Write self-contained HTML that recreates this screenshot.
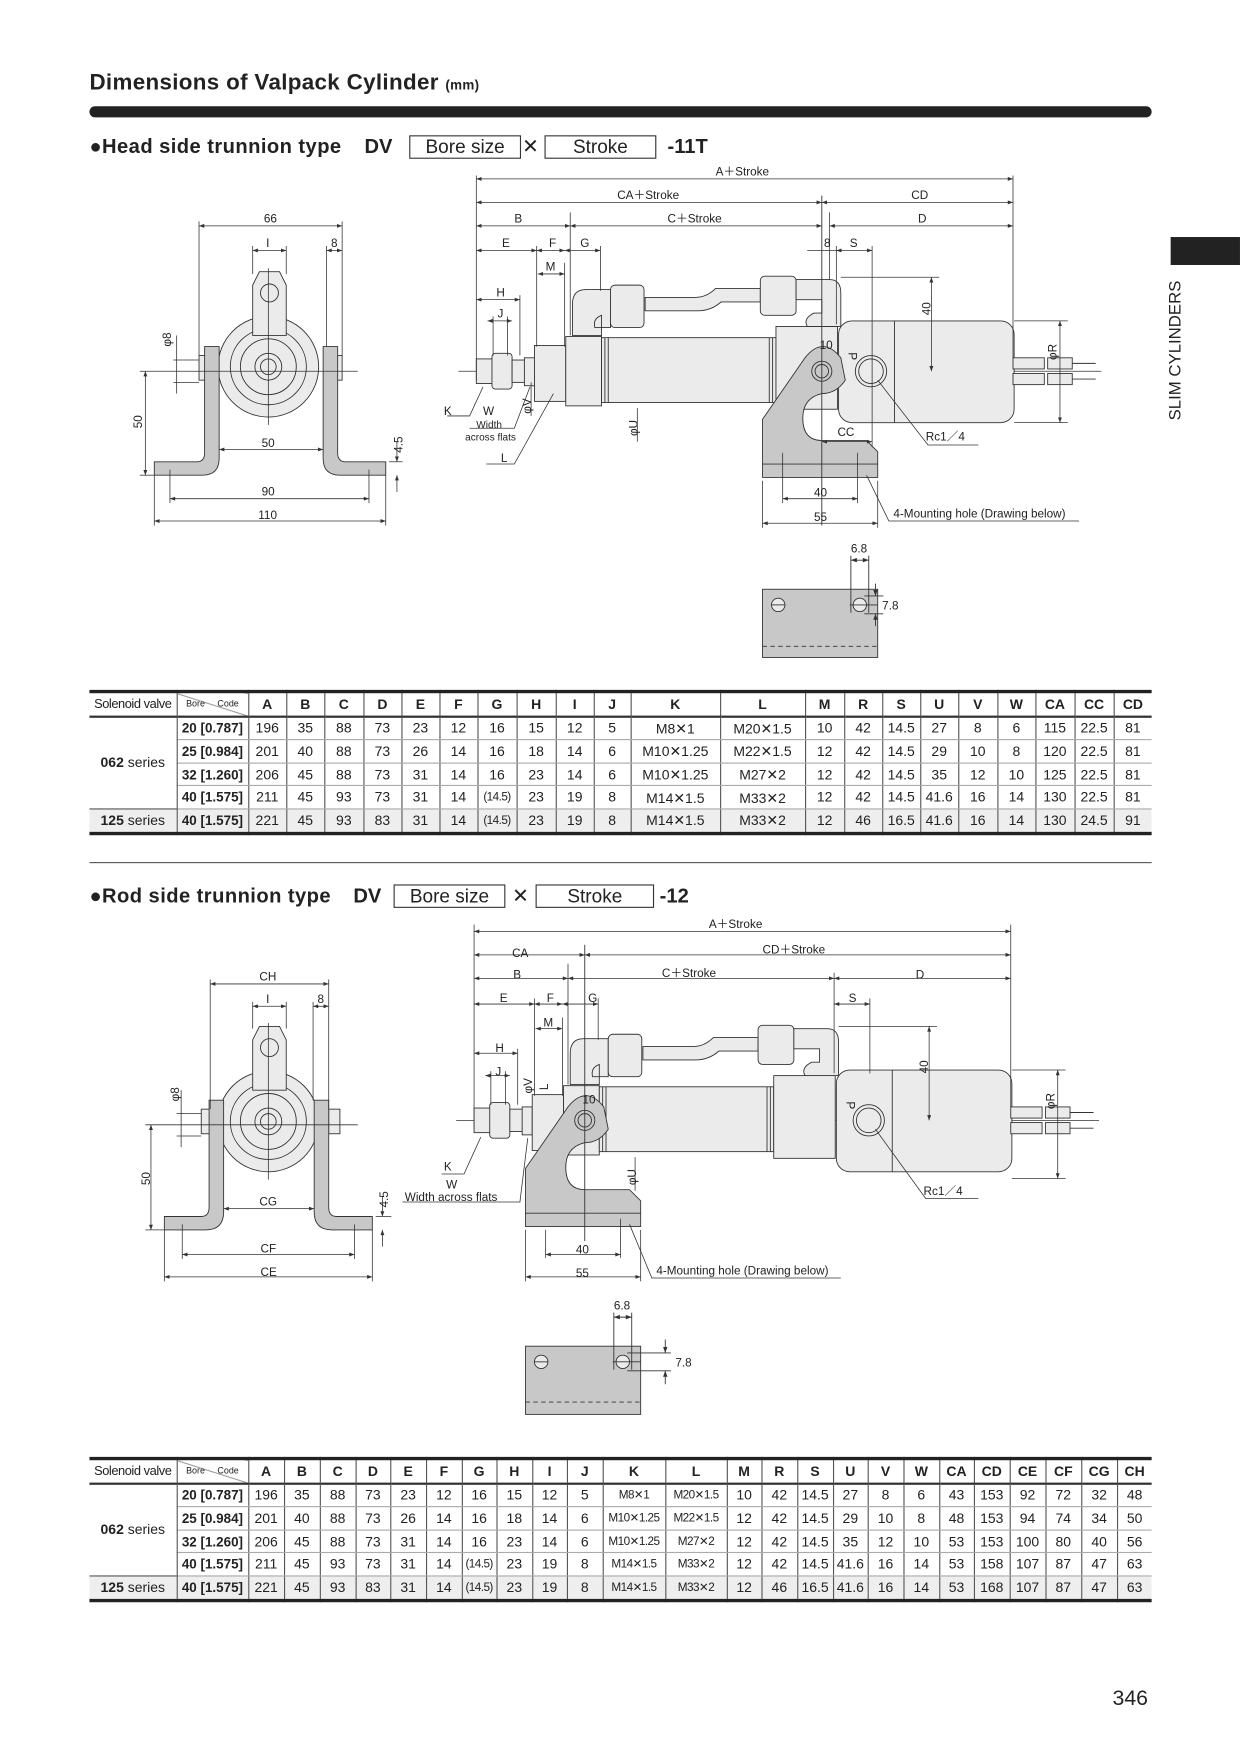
<!DOCTYPE html>
<html><head><meta charset="utf-8">
<style>
html,body{margin:0;padding:0;background:#fff;}
body{width:1240px;height:1754px;overflow:hidden;position:relative;}
#w{position:absolute;left:0;top:0;width:1109px;height:1568px;transform:scale(1.1181);transform-origin:0 0;font-family:"Liberation Sans",sans-serif;color:#222;}
.abs{position:absolute;white-space:nowrap;}
table{border-collapse:collapse;table-layout:fixed;position:absolute;left:80px;width:950px;font-size:12.5px;}
td,th{border-left:1px solid #555;border-right:1px solid #555;height:19.6px;padding:0;text-align:center;white-space:nowrap;overflow:hidden;font-weight:normal;}
th{font-weight:bold;font-size:12.5px;border-bottom:2px solid #333;}
tr.d td{border-bottom:1px solid #aaa;}
table{border-top:3px solid #222;border-bottom:3px solid #222;}
td.b{font-weight:bold;font-size:12px;}
tr.g td{background:#eee;}
td:first-child,th:first-child{border-left:none;}
td:last-child,th:last-child{border-right:none;}
.sv{font-size:11.5px;font-weight:normal!important;letter-spacing:-0.4px;}
.sm{font-size:10.5px;letter-spacing:-0.5px;}
.h2{font-weight:bold;font-size:18px;}
.box{position:absolute;border:1px solid #333;height:19px;line-height:19px;text-align:center;font-weight:normal;font-size:17px;}
</style></head><body><div id="w">
<div class="abs" style="left:80px;top:63px;font-size:20px;font-weight:bold;letter-spacing:0.3px;">Dimensions of Valpack Cylinder <span style="font-size:12px">(mm)</span></div>
<div class="abs" style="left:80px;top:95px;width:950px;height:10px;background:#222;border-radius:5px;"></div>

<div class="abs h2" style="left:80px;top:121px;letter-spacing:0.4px;">●Head side trunnion type</div>
<div class="abs h2" style="left:326px;top:121px;">DV</div>
<div class="box" style="left:366px;top:121px;width:98px">Bore size</div>
<div class="abs" style="left:467px;top:121px;font-size:18px;">✕</div>
<div class="box" style="left:487px;top:121px;width:98px">Stroke</div>
<div class="abs h2" style="left:597px;top:121px;">-11T</div>

<div class="abs" style="left:1047px;top:212px;width:62px;height:25px;background:#222;"></div>
<div class="abs" style="left:1043px;top:376px;transform:rotate(-90deg);transform-origin:0 0;font-size:15px;white-space:nowrap;">SLIM CYLINDERS</div>
<div class="abs" style="left:80px;top:771px;width:950px;height:1px;background:#555;"></div>

<div class="abs h2" style="left:80px;top:791px;letter-spacing:0.4px;">●Rod side trunnion type</div>
<div class="abs h2" style="left:316px;top:791px;">DV</div>
<div class="box" style="left:352px;top:791px;width:98px">Bore size</div>
<div class="abs" style="left:458px;top:791px;font-size:18px;">✕</div>
<div class="box" style="left:479px;top:791px;width:104px">Stroke</div>
<div class="abs h2" style="left:590px;top:791px;">-12</div>

<div class="abs" style="left:995px;top:1509px;font-size:19px;">346</div>

<svg class="abs" style="left:0;top:0" width="1109" height="1568" viewBox="0 0 1109 1568" font-family="Liberation Sans, sans-serif" font-size="10.5" fill="none" stroke="#333" stroke-width="0.8">
<defs>
<marker id="a" viewBox="0 0 8 6" refX="8" refY="3" markerWidth="7" markerHeight="5" orient="auto-start-reverse"><path d="M0,0L8,3L0,6z" fill="#333" stroke="none"/></marker>
<g id="cyl">
<line x1="410" y1="332" x2="985" y2="332" stroke-width="0.7"/>
<g fill="#ebebeb">
<rect x="426" y="321" width="16" height="22"/>
<rect x="440" y="316" width="18" height="32" rx="3"/>
<rect x="458" y="322" width="12" height="20"/>
<rect x="469" y="320" width="9" height="25"/>
<rect x="478" y="309" width="28" height="50"/>
<rect x="506" y="301" width="32" height="62"/>
<rect x="538" y="302" width="156" height="58"/>
<rect x="694" y="292" width="55" height="74"/>
<rect x="750" y="287" width="157" height="91" rx="12"/>
<path d="M512,300 V272 Q512,259 524,259 H546 V293 H532 Q530,285 538,282 V300 Z"/>
<path d="M577,266 H622 Q632,266 640,258 H680 V270 H645 Q636,278 624,278 H577 Z"/>
<rect x="546" y="255" width="30" height="38" rx="4"/>
<rect x="680" y="247" width="32" height="35" rx="4"/>
<path d="M712,250 H742 Q752,250 752,262 V292 H722 Q718,285 728,280 H735 V268 H712 Z"/>
<rect x="906" y="320" width="28" height="10"/><rect x="906" y="334" width="28" height="10"/>
<rect x="937" y="320" width="22" height="10"/><rect x="937" y="334" width="22" height="10"/>
</g>
<line x1="541" y1="302" x2="541" y2="360"/><line x1="544" y1="302" x2="544" y2="360"/>
<line x1="688" y1="302" x2="688" y2="360"/><line x1="691" y1="302" x2="691" y2="360"/>
<line x1="800" y1="287" x2="800" y2="378"/>
<circle cx="779" cy="332" r="14" fill="#ebebeb"/><circle cx="779" cy="332" r="11"/>
<line x1="959" y1="325" x2="980" y2="325"/><line x1="959" y1="339" x2="980" y2="339"/>
</g>
</defs>

<use href="#cyl"/>
<path d="M682,375 L720,320 Q736,300 752,320 L756,340 Q748,352 735,352 Q718,356 718,374 Q718,394 735,394 H775 L785,404 V427 H682 Z" fill="#c8c8c8"/>
<line x1="682" y1="415" x2="785" y2="415"/>
<circle cx="735" cy="332" r="9"/><circle cx="735" cy="332" r="6"/>
<line x1="735" y1="175" x2="735" y2="470"/>
<g stroke-width="0.7">
<line x1="426" y1="157" x2="426" y2="340"/><line x1="906" y1="157" x2="906" y2="320"/>
<line x1="426" y1="160" x2="906" y2="160" marker-start="url(#a)" marker-end="url(#a)"/>
<line x1="426" y1="181" x2="735" y2="181" marker-start="url(#a)" marker-end="url(#a)"/>
<line x1="735" y1="181" x2="906" y2="181" marker-start="url(#a)" marker-end="url(#a)"/>
<line x1="426" y1="202" x2="510" y2="202" marker-start="url(#a)" marker-end="url(#a)"/>
<line x1="510" y1="202" x2="735" y2="202" marker-start="url(#a)" marker-end="url(#a)"/>
<line x1="742" y1="202" x2="906" y2="202" marker-start="url(#a)" marker-end="url(#a)"/>
<line x1="426" y1="224" x2="480" y2="224" marker-start="url(#a)" marker-end="url(#a)"/>
<line x1="480" y1="224" x2="505" y2="224" marker-start="url(#a)" marker-end="url(#a)"/>
<line x1="505" y1="224" x2="537" y2="224" marker-start="url(#a)" marker-end="url(#a)"/>
<line x1="722" y1="224" x2="748" y2="224"/><line x1="748" y1="224" x2="780" y2="224" marker-start="url(#a)" marker-end="url(#a)"/>
<line x1="510" y1="190" x2="510" y2="300"/><line x1="480" y1="220" x2="480" y2="310"/><line x1="537" y1="220" x2="537" y2="260"/>
<line x1="742" y1="190" x2="742" y2="250"/><line x1="780" y1="220" x2="780" y2="400"/><line x1="748" y1="220" x2="748" y2="290"/>
<line x1="481" y1="245" x2="505" y2="245" marker-start="url(#a)" marker-end="url(#a)"/><line x1="505" y1="235" x2="505" y2="310"/>
<line x1="426" y1="268" x2="465" y2="268" marker-start="url(#a)" marker-end="url(#a)"/><line x1="465" y1="264" x2="465" y2="318"/>
<line x1="436" y1="287" x2="458" y2="287" marker-start="url(#a)" marker-end="url(#a)"/><line x1="441" y1="283" x2="441" y2="318"/><line x1="454" y1="283" x2="454" y2="318"/>
<line x1="752" y1="248" x2="840" y2="248"/><line x1="833" y1="248" x2="833" y2="332" marker-start="url(#a)" marker-end="url(#a)"/>
<line x1="907" y1="287" x2="955" y2="287"/><line x1="907" y1="378" x2="955" y2="378"/><line x1="948" y1="287" x2="948" y2="378" marker-start="url(#a)" marker-end="url(#a)"/>
<line x1="735" y1="395" x2="780" y2="395" marker-start="url(#a)" marker-end="url(#a)"/>
<line x1="700" y1="405" x2="700" y2="450"/><line x1="767" y1="405" x2="767" y2="450"/>
<line x1="700" y1="446" x2="767" y2="446" marker-start="url(#a)" marker-end="url(#a)"/>
<line x1="682" y1="430" x2="682" y2="472"/><line x1="785" y1="430" x2="785" y2="472"/>
<line x1="682" y1="468" x2="785" y2="468" marker-start="url(#a)" marker-end="url(#a)"/>
<polyline points="775,425 795,466 965,466"/>
<polyline points="785,340 830,398 875,398"/>
<polyline points="400,372 420,372 432,346"/><polyline points="420,383 460,383 474,346"/><polyline points="435,415 460,415 495,352"/>
<line x1="570" y1="365" x2="570" y2="395"/><line x1="475" y1="342" x2="475" y2="372"/>
</g>
<g fill="#222" stroke="none" font-size="10.5">
<text x="640" y="157">A＋Stroke</text><text x="552" y="178">CA＋Stroke</text><text x="815" y="178">CD</text>
<text x="460" y="199">B</text><text x="597" y="199">C＋Stroke</text><text x="821" y="199">D</text>
<text x="449" y="221">E</text><text x="491" y="221">F</text><text x="519" y="221">G</text><text x="737" y="221">8</text><text x="760" y="221">S</text>
<text x="488" y="242">M</text><text x="444" y="265">H</text><text x="445" y="284">J</text><text x="733" y="312">10</text>
<text x="397" y="371">K</text><text x="432" y="371">W</text><text x="426" y="383" font-size="9">Width</text><text x="416" y="394" font-size="9">across flats</text><text x="448" y="413">L</text>
<text x="749" y="390">CC</text><text x="828" y="394">Rc1／4</text><text x="728" y="444">40</text><text x="728" y="466">55</text>
<text x="799" y="463">4-Mounting hole (Drawing below)</text>
<text transform="translate(832,282) rotate(-90)">40</text><text transform="translate(945,322) rotate(-90)">φR</text>
<text transform="translate(759,315) rotate(90)">P</text><text transform="translate(475,370) rotate(-90)">φV</text><text transform="translate(570,390) rotate(-90)">φU</text>
</g>

<g stroke-width="0.8">
<circle cx="240" cy="328" r="45" fill="#ebebeb"/><circle cx="240" cy="328" r="34" /><circle cx="240" cy="328" r="25" fill="#ebebeb"/><circle cx="240" cy="328" r="12"/><circle cx="240" cy="328" r="7"/>
<path d="M226,255 L232,243 H250 L256,255 V300 H226 Z" fill="#ebebeb"/><circle cx="241" cy="262" r="8"/>
<rect x="178" y="318" width="12" height="22" fill="#ebebeb"/><rect x="294" y="318" width="12" height="22" fill="#ebebeb"/>
<path d="M183,310 H196 V410 Q196,425 181,425 H138 V413 H176 Q183,413 183,405 Z" fill="#c8c8c8"/>
<path d="M302,310 H289 V410 Q289,425 304,425 H345 V413 H309 Q302,413 302,405 Z" fill="#c8c8c8"/>
<g stroke-width="0.7">
<line x1="165" y1="332" x2="320" y2="332"/><line x1="240" y1="240" x2="240" y2="380"/>
<line x1="178" y1="198" x2="178" y2="318"/><line x1="306" y1="198" x2="306" y2="318"/>
<line x1="178" y1="202" x2="306" y2="202" marker-start="url(#a)" marker-end="url(#a)"/>
<line x1="226" y1="224" x2="256" y2="224" marker-start="url(#a)" marker-end="url(#a)"/><line x1="226" y1="220" x2="226" y2="245"/><line x1="256" y1="220" x2="256" y2="245"/>
<line x1="292" y1="224" x2="306" y2="224" marker-start="url(#a)" marker-end="url(#a)"/><line x1="292" y1="220" x2="292" y2="310"/>
<line x1="196" y1="402" x2="289" y2="402" marker-start="url(#a)" marker-end="url(#a)"/>
<line x1="138" y1="425" x2="138" y2="470"/><line x1="345" y1="425" x2="345" y2="470"/><line x1="152" y1="420" x2="152" y2="450"/><line x1="330" y1="420" x2="330" y2="450"/>
<line x1="152" y1="446" x2="330" y2="446" marker-start="url(#a)" marker-end="url(#a)"/>
<line x1="138" y1="466" x2="345" y2="466" marker-start="url(#a)" marker-end="url(#a)"/>
<line x1="125" y1="332" x2="165" y2="332"/><line x1="130" y1="332" x2="130" y2="425" marker-start="url(#a)" marker-end="url(#a)"/><line x1="125" y1="425" x2="138" y2="425"/>
<line x1="348" y1="413" x2="360" y2="413"/><line x1="355" y1="395" x2="355" y2="413" marker-end="url(#a)"/><line x1="355" y1="440" x2="355" y2="425" marker-end="url(#a)"/>
<line x1="155" y1="322" x2="178" y2="322"/><line x1="155" y1="342" x2="178" y2="342"/><line x1="158" y1="300" x2="158" y2="352"/>
</g></g>
<g fill="#222" stroke="none">
<text x="236" y="199">66</text><text x="238" y="221">I</text><text x="296" y="221">8</text><text x="234" y="400">50</text><text x="234" y="443">90</text><text x="231" y="464">110</text>
<text transform="translate(127,383) rotate(-90)">50</text><text transform="translate(360,405) rotate(-90)">4.5</text><text transform="translate(153,310) rotate(-90)">φ8</text>
</g>

<g stroke-width="0.8">
<rect x="682" y="527" width="103" height="61" fill="#c8c8c8"/>
<line x1="682" y1="578" x2="785" y2="578" stroke-dasharray="4,3"/>
<circle cx="696" cy="541" r="6" fill="#ebebeb"/><circle cx="769" cy="541" r="6" fill="#ebebeb"/>
<line x1="690" y1="541" x2="702" y2="541"/><line x1="760" y1="541" x2="785" y2="541"/>
<line x1="761" y1="497" x2="761" y2="548"/><line x1="777" y1="497" x2="777" y2="548"/>
<line x1="761" y1="501" x2="777" y2="501" marker-start="url(#a)" marker-end="url(#a)"/>
<line x1="773" y1="533" x2="790" y2="533"/><line x1="773" y1="549" x2="790" y2="549"/>
<line x1="783" y1="522" x2="783" y2="533" marker-end="url(#a)"/><line x1="783" y1="560" x2="783" y2="549" marker-end="url(#a)"/>
</g>
<g fill="#222" stroke="none"><text x="761" y="494">6.8</text><text x="789" y="545">7.8</text></g>

<use href="#cyl" transform="translate(-2,670)"/>
<path d="M470,1045 L508,990 Q524,970 540,990 L544,1010 Q536,1022 523,1022 Q506,1026 506,1044 Q506,1064 523,1064 H563 L573,1074 V1097 H470 Z" fill="#c8c8c8"/>
<line x1="470" y1="1085" x2="573" y2="1085"/>
<circle cx="523" cy="1002" r="9"/><circle cx="523" cy="1002" r="6"/>
<line x1="523" y1="845" x2="523" y2="1110"/>
<g stroke-width="0.7">
<line x1="424" y1="827" x2="424" y2="1010"/><line x1="904" y1="827" x2="904" y2="990"/>
<line x1="424" y1="833" x2="904" y2="833" marker-start="url(#a)" marker-end="url(#a)"/>
<line x1="424" y1="854" x2="523" y2="854" marker-start="url(#a)" marker-end="url(#a)"/>
<line x1="523" y1="854" x2="904" y2="854" marker-start="url(#a)" marker-end="url(#a)"/>
<line x1="424" y1="875" x2="508" y2="875" marker-start="url(#a)" marker-end="url(#a)"/>
<line x1="508" y1="875" x2="746" y2="875" marker-start="url(#a)" marker-end="url(#a)"/>
<line x1="746" y1="875" x2="904" y2="875" marker-start="url(#a)" marker-end="url(#a)"/>
<line x1="424" y1="898" x2="478" y2="898" marker-start="url(#a)" marker-end="url(#a)"/>
<line x1="478" y1="898" x2="503" y2="898" marker-start="url(#a)" marker-end="url(#a)"/>
<line x1="503" y1="898" x2="535" y2="898" marker-start="url(#a)" marker-end="url(#a)"/>
<line x1="746" y1="898" x2="778" y2="898" marker-start="url(#a)" marker-end="url(#a)"/>
<line x1="508" y1="862" x2="508" y2="970"/><line x1="478" y1="893" x2="478" y2="980"/><line x1="535" y1="893" x2="535" y2="930"/>
<line x1="746" y1="870" x2="746" y2="960"/><line x1="778" y1="893" x2="778" y2="960"/>
<line x1="479" y1="920" x2="503" y2="920" marker-start="url(#a)" marker-end="url(#a)"/><line x1="503" y1="910" x2="503" y2="980"/>
<line x1="424" y1="942" x2="463" y2="942" marker-start="url(#a)" marker-end="url(#a)"/><line x1="463" y1="938" x2="463" y2="988"/>
<line x1="434" y1="962" x2="456" y2="962" marker-start="url(#a)" marker-end="url(#a)"/><line x1="439" y1="958" x2="439" y2="988"/><line x1="452" y1="958" x2="452" y2="988"/>
<line x1="750" y1="918" x2="838" y2="918"/><line x1="831" y1="918" x2="831" y2="1002" marker-start="url(#a)" marker-end="url(#a)"/>
<line x1="905" y1="957" x2="953" y2="957"/><line x1="905" y1="1054" x2="953" y2="1054"/><line x1="946" y1="957" x2="946" y2="1054" marker-start="url(#a)" marker-end="url(#a)"/>
<line x1="488" y1="1100" x2="488" y2="1125"/><line x1="555" y1="1090" x2="555" y2="1125"/>
<line x1="488" y1="1122" x2="555" y2="1122" marker-start="url(#a)" marker-end="url(#a)"/>
<line x1="470" y1="1100" x2="470" y2="1146"/><line x1="573" y1="1100" x2="573" y2="1146"/>
<line x1="470" y1="1142" x2="573" y2="1142" marker-start="url(#a)" marker-end="url(#a)"/>
<polyline points="563,1095 583,1143 752,1143"/>
<polyline points="783,1010 828,1072 875,1072"/>
<polyline points="395,1050 415,1050 430,1017"/><polyline points="360,1075 465,1075 472,1018"/>
<line x1="568" y1="1035" x2="568" y2="1065"/>
</g>
<g fill="#222" stroke="none">
<text x="634" y="830">A＋Stroke</text><text x="458" y="856">CA</text><text x="682" y="853">CD＋Stroke</text>
<text x="459" y="875">B</text><text x="592" y="874">C＋Stroke</text><text x="819" y="875">D</text>
<text x="447" y="896">E</text><text x="489" y="896">F</text><text x="526" y="896">G</text><text x="759" y="896">S</text>
<text x="486" y="918">M</text><text x="443" y="941">H</text><text x="443" y="962">J</text><text x="521" y="987">10</text>
<text x="397" y="1047">K</text><text x="399" y="1063">W</text><text x="362" y="1074">Width across flats</text>
<text x="826" y="1069">Rc1／4</text><text x="515" y="1121">40</text><text x="515" y="1142">55</text>
<text x="587" y="1140">4-Mounting hole (Drawing below)</text>
<text transform="translate(830,960) rotate(-90)">40</text><text transform="translate(943,992) rotate(-90)">φR</text>
<text transform="translate(757,985) rotate(90)">P</text><text transform="translate(476,978) rotate(-90)">φV</text><text transform="translate(490,975) rotate(-90)">L</text><text transform="translate(569,1060) rotate(-90)">φU</text>
</g>

<g stroke-width="0.8">
<circle cx="240" cy="1003" r="45" fill="#ebebeb"/><circle cx="240" cy="1003" r="34"/><circle cx="240" cy="1003" r="25" fill="#ebebeb"/><circle cx="240" cy="1003" r="12"/><circle cx="240" cy="1003" r="7"/>
<path d="M226,930 L232,918 H250 L256,930 V975 H226 Z" fill="#ebebeb"/><circle cx="241" cy="937" r="8"/>
<rect x="180" y="992" width="10" height="22" fill="#ebebeb"/><rect x="294" y="992" width="10" height="22" fill="#ebebeb"/>
<path d="M187,984 H200 V1084 Q200,1100 184,1100 H147 V1088 H180 Q187,1088 187,1080 Z" fill="#c8c8c8"/>
<path d="M294,984 H281 V1084 Q281,1100 297,1100 H333 V1088 H301 Q294,1088 294,1080 Z" fill="#c8c8c8"/>
<g stroke-width="0.7">
<line x1="165" y1="1006" x2="320" y2="1006"/><line x1="240" y1="915" x2="240" y2="1055"/>
<line x1="188" y1="876" x2="188" y2="992"/><line x1="294" y1="876" x2="294" y2="992"/>
<line x1="188" y1="880" x2="294" y2="880" marker-start="url(#a)" marker-end="url(#a)"/>
<line x1="226" y1="900" x2="256" y2="900" marker-start="url(#a)" marker-end="url(#a)"/><line x1="226" y1="896" x2="226" y2="920"/><line x1="256" y1="896" x2="256" y2="920"/>
<line x1="280" y1="900" x2="294" y2="900" marker-start="url(#a)" marker-end="url(#a)"/><line x1="280" y1="896" x2="280" y2="984"/>
<line x1="200" y1="1081" x2="281" y2="1081" marker-start="url(#a)" marker-end="url(#a)"/>
<line x1="147" y1="1100" x2="147" y2="1146"/><line x1="333" y1="1100" x2="333" y2="1146"/><line x1="163" y1="1095" x2="163" y2="1126"/><line x1="317" y1="1095" x2="317" y2="1126"/>
<line x1="163" y1="1122" x2="317" y2="1122" marker-start="url(#a)" marker-end="url(#a)"/>
<line x1="147" y1="1142" x2="333" y2="1142" marker-start="url(#a)" marker-end="url(#a)"/>
<line x1="130" y1="1006" x2="165" y2="1006"/><line x1="135" y1="1006" x2="135" y2="1100" marker-start="url(#a)" marker-end="url(#a)"/><line x1="130" y1="1100" x2="147" y2="1100"/>
<line x1="336" y1="1088" x2="350" y2="1088"/><line x1="342" y1="1070" x2="342" y2="1088" marker-end="url(#a)"/><line x1="342" y1="1115" x2="342" y2="1100" marker-end="url(#a)"/>
<line x1="158" y1="996" x2="180" y2="996"/><line x1="158" y1="1016" x2="180" y2="1016"/><line x1="162" y1="975" x2="162" y2="1026"/>
</g></g>
<g fill="#222" stroke="none">
<text x="232" y="877">CH</text><text x="238" y="897">I</text><text x="284" y="897">8</text><text x="232" y="1078">CG</text><text x="233" y="1120">CF</text><text x="233" y="1141">CE</text>
<text transform="translate(134,1060) rotate(-90)">50</text><text transform="translate(347,1080) rotate(-90)">4.5</text><text transform="translate(160,985) rotate(-90)">φ8</text>
</g>

<g stroke-width="0.8">
<rect x="470" y="1204" width="103" height="61" fill="#c8c8c8"/>
<line x1="470" y1="1254" x2="573" y2="1254" stroke-dasharray="4,3"/>
<circle cx="484" cy="1218" r="6" fill="#ebebeb"/><circle cx="557" cy="1218" r="6" fill="#ebebeb"/>
<line x1="478" y1="1218" x2="490" y2="1218"/><line x1="548" y1="1218" x2="573" y2="1218"/>
<line x1="549" y1="1174" x2="549" y2="1225"/><line x1="565" y1="1174" x2="565" y2="1225"/>
<line x1="549" y1="1178" x2="565" y2="1178" marker-start="url(#a)" marker-end="url(#a)"/>
<line x1="561" y1="1210" x2="600" y2="1210"/><line x1="561" y1="1226" x2="600" y2="1226"/>
<line x1="595" y1="1198" x2="595" y2="1210" marker-end="url(#a)"/><line x1="595" y1="1238" x2="595" y2="1226" marker-end="url(#a)"/>
</g>
<g fill="#222" stroke="none"><text x="549" y="1171">6.8</text><text x="604" y="1222">7.8</text></g>
</svg>

<table style="top:617px;">
<colgroup><col style="width:78px"><col style="width:64px"><col style="width:34px"><col style="width:34px"><col style="width:35px"><col style="width:34px"><col style="width:34px"><col style="width:34px"><col style="width:35px"><col style="width:35px"><col style="width:34px"><col style="width:33px"><col style="width:80px"><col style="width:76px"><col style="width:35px"><col style="width:34px"><col style="width:34px"><col style="width:34px"><col style="width:35px"><col style="width:34px"><col style="width:35px"><col style="width:35px"><col style="width:34px"></colgroup>
<tr><th class="sv">Solenoid valve</th><th style="font-size:8px;font-weight:normal;background:linear-gradient(to top right,transparent 49%,#555 50%,transparent 52%)">Bore&nbsp;&nbsp;&nbsp;&nbsp;&nbsp;Code</th><th>A</th><th>B</th><th>C</th><th>D</th><th>E</th><th>F</th><th>G</th><th>H</th><th>I</th><th>J</th><th>K</th><th>L</th><th>M</th><th>R</th><th>S</th><th>U</th><th>V</th><th>W</th><th>CA</th><th>CC</th><th>CD</th></tr>
<tr class="d"><td rowspan="4" style="border-bottom:1px solid #555"><b>062</b> series</td><td class="b">20 [0.787]</td><td>196</td><td>35</td><td>88</td><td>73</td><td>23</td><td>12</td><td>16</td><td>15</td><td>12</td><td>5</td><td>M8✕1</td><td>M20✕1.5</td><td>10</td><td>42</td><td>14.5</td><td>27</td><td>8</td><td>6</td><td>115</td><td>22.5</td><td>81</td></tr>
<tr class="d"><td class="b">25 [0.984]</td><td>201</td><td>40</td><td>88</td><td>73</td><td>26</td><td>14</td><td>16</td><td>18</td><td>14</td><td>6</td><td>M10✕1.25</td><td>M22✕1.5</td><td>12</td><td>42</td><td>14.5</td><td>29</td><td>10</td><td>8</td><td>120</td><td>22.5</td><td>81</td></tr>
<tr class="d"><td class="b">32 [1.260]</td><td>206</td><td>45</td><td>88</td><td>73</td><td>31</td><td>14</td><td>16</td><td>23</td><td>14</td><td>6</td><td>M10✕1.25</td><td>M27✕2</td><td>12</td><td>42</td><td>14.5</td><td>35</td><td>12</td><td>10</td><td>125</td><td>22.5</td><td>81</td></tr>
<tr class="d"><td class="b">40 [1.575]</td><td>211</td><td>45</td><td>93</td><td>73</td><td>31</td><td>14</td><td class="sm">(14.5)</td><td>23</td><td>19</td><td>8</td><td>M14✕1.5</td><td>M33✕2</td><td>12</td><td>42</td><td>14.5</td><td>41.6</td><td>16</td><td>14</td><td>130</td><td>22.5</td><td>81</td></tr>
<tr class="g"><td><b>125</b> series</td><td class="b">40 [1.575]</td><td>221</td><td>45</td><td>93</td><td>83</td><td>31</td><td>14</td><td class="sm">(14.5)</td><td>23</td><td>19</td><td>8</td><td>M14✕1.5</td><td>M33✕2</td><td>12</td><td>46</td><td>16.5</td><td>41.6</td><td>16</td><td>14</td><td>130</td><td>24.5</td><td>91</td></tr>
</table>

<table style="top:1303px;">
<colgroup><col style="width:78px"><col style="width:64px"><col style="width:32px"><col style="width:32px"><col style="width:32px"><col style="width:31px"><col style="width:32px"><col style="width:32px"><col style="width:31px"><col style="width:32px"><col style="width:31px"><col style="width:32px"><col style="width:56px"><col style="width:55px"><col style="width:31px"><col style="width:32px"><col style="width:32px"><col style="width:31px"><col style="width:32px"><col style="width:32px"><col style="width:31px"><col style="width:32px"><col style="width:32px"><col style="width:32px"><col style="width:32px"><col style="width:31px"></colgroup>
<tr><th class="sv">Solenoid valve</th><th style="font-size:8px;font-weight:normal;background:linear-gradient(to top right,transparent 49%,#555 50%,transparent 52%)">Bore&nbsp;&nbsp;&nbsp;&nbsp;&nbsp;Code</th><th>A</th><th>B</th><th>C</th><th>D</th><th>E</th><th>F</th><th>G</th><th>H</th><th>I</th><th>J</th><th>K</th><th>L</th><th>M</th><th>R</th><th>S</th><th>U</th><th>V</th><th>W</th><th>CA</th><th>CD</th><th>CE</th><th>CF</th><th>CG</th><th>CH</th></tr>
<tr class="d"><td rowspan="4" style="border-bottom:1px solid #555"><b>062</b> series</td><td class="b">20 [0.787]</td><td>196</td><td>35</td><td>88</td><td>73</td><td>23</td><td>12</td><td>16</td><td>15</td><td>12</td><td>5</td><td class="sm">M8✕1</td><td class="sm">M20✕1.5</td><td>10</td><td>42</td><td>14.5</td><td>27</td><td>8</td><td>6</td><td>43</td><td>153</td><td>92</td><td>72</td><td>32</td><td>48</td></tr>
<tr class="d"><td class="b">25 [0.984]</td><td>201</td><td>40</td><td>88</td><td>73</td><td>26</td><td>14</td><td>16</td><td>18</td><td>14</td><td>6</td><td class="sm">M10✕1.25</td><td class="sm">M22✕1.5</td><td>12</td><td>42</td><td>14.5</td><td>29</td><td>10</td><td>8</td><td>48</td><td>153</td><td>94</td><td>74</td><td>34</td><td>50</td></tr>
<tr class="d"><td class="b">32 [1.260]</td><td>206</td><td>45</td><td>88</td><td>73</td><td>31</td><td>14</td><td>16</td><td>23</td><td>14</td><td>6</td><td class="sm">M10✕1.25</td><td class="sm">M27✕2</td><td>12</td><td>42</td><td>14.5</td><td>35</td><td>12</td><td>10</td><td>53</td><td>153</td><td>100</td><td>80</td><td>40</td><td>56</td></tr>
<tr class="d"><td class="b">40 [1.575]</td><td>211</td><td>45</td><td>93</td><td>73</td><td>31</td><td>14</td><td class="sm">(14.5)</td><td>23</td><td>19</td><td>8</td><td class="sm">M14✕1.5</td><td class="sm">M33✕2</td><td>12</td><td>42</td><td>14.5</td><td>41.6</td><td>16</td><td>14</td><td>53</td><td>158</td><td>107</td><td>87</td><td>47</td><td>63</td></tr>
<tr class="g"><td><b>125</b> series</td><td class="b">40 [1.575]</td><td>221</td><td>45</td><td>93</td><td>83</td><td>31</td><td>14</td><td class="sm">(14.5)</td><td>23</td><td>19</td><td>8</td><td class="sm">M14✕1.5</td><td class="sm">M33✕2</td><td>12</td><td>46</td><td>16.5</td><td>41.6</td><td>16</td><td>14</td><td>53</td><td>168</td><td>107</td><td>87</td><td>47</td><td>63</td></tr>
</table>
</div></body></html>
